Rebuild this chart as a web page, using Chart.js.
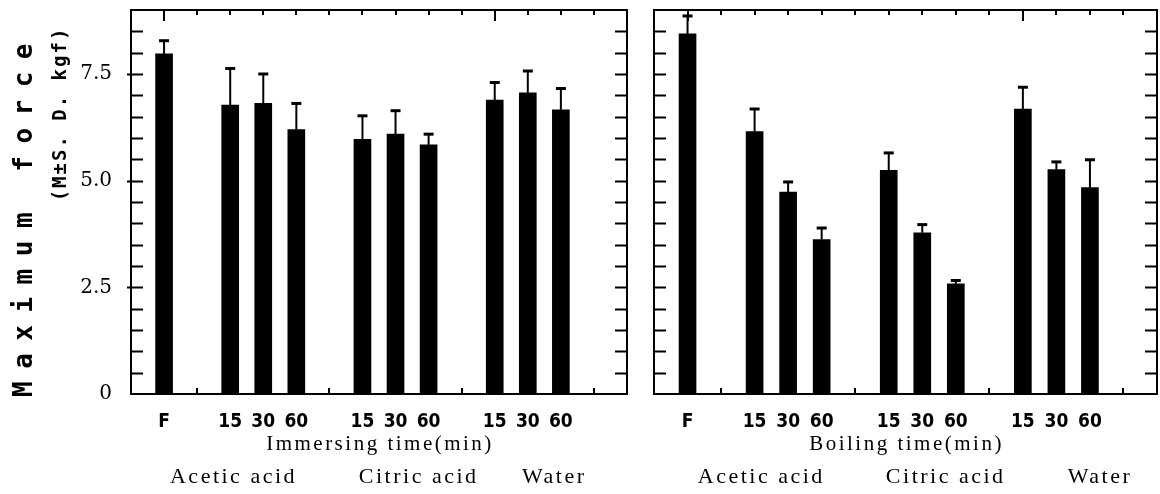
<!DOCTYPE html>
<html>
<head>
<meta charset="utf-8">
<script src="https://cdn.jsdelivr.net/npm/chart.js@4.4.0/dist/chart.umd.min.js"></script>
<style>
    body { margin: 0; background: #fff; }
    #wrap { position: relative; width: 1160px; height: 494px; overflow: hidden; }
    canvas { position: absolute; top: 0; }
</style>
</head>
<body>
<div id="wrap">
    <canvas id="immersing" width="640" height="494" style="left:0"></canvas>
    <canvas id="boiling" width="520" height="494" style="left:640px"></canvas>
</div>
<script>
// Slots along the x axis - blank slots keep the gaps between the groups
const xLabels = ['', 'F', '', '15', '30', '60', '', '15', '30', '60', '', '15', '30', '60', '', ''];
const groupNames = ['Acetic acid', 'Citric acid', 'Water'];
const yTickLabels = ['0', '2.5', '5.0', '7.5'];

// Maximum force (kgf), mean and S.D. per slot
const immersingMean = [null, 7.97, null, 6.77, 6.81, 6.20, null, 5.97, 6.09, 5.84, null, 6.89, 7.06, 6.66, null, null];
const immersingSD   = [null, 0.31, null, 0.86, 0.69, 0.61, null, 0.55, 0.55, 0.25, null, 0.41, 0.51, 0.50, null, null];
const boilingMean   = [null, 8.44, null, 6.15, 4.73, 3.62, null, 5.24, 3.78, 2.58, null, 6.68, 5.26, 4.84, null, null];
const boilingSD     = [null, 0.42, null, 0.53, 0.24, 0.27, null, 0.41, 0.19, 0.08, null, 0.51, 0.18, 0.65, null, null];

// Box frame with inward ticks on all sides
const frameTicks = {
    id: 'frameTicks',
    afterDraw(chart, args, o) {
        const { ctx, chartArea: a, scales: { x, y } } = chart;
        ctx.save();
        ctx.strokeStyle = '#000';
        ctx.lineWidth = 2;
        ctx.strokeRect(a.left, a.top, a.right - a.left, a.bottom - a.top);
        ctx.beginPath();
        y.ticks.forEach(t => {
            if (t.value <= 0 || t.value >= 9) return;
            const py = Math.round(y.getPixelForValue(t.value)) + 0.5;
            const major = Math.abs(t.value / 2.5 - Math.round(t.value / 2.5)) < 1e-6;
            ctx.moveTo(a.left - (major ? o.majorOut : 0), py);
            ctx.lineTo(a.left + 12, py);
            ctx.moveTo(a.right, py);
            ctx.lineTo(a.right - 12, py);
        });
        // top ticks on every slot
        for (let i = 1; i < xLabels.length - 1; i++) {
            const px = Math.round(x.getPixelForValue(i));
            const len = (i === 1 || i === 11) ? 11 : 5;
            ctx.moveTo(px, a.top);
            ctx.lineTo(px, a.top + len);
        }
        // bottom ticks between groups
        [2, 6, 10, 14].forEach(i => {
            const px = Math.round(x.getPixelForValue(i));
            ctx.moveTo(px, a.bottom);
            ctx.lineTo(px, a.bottom - 6);
        });
        ctx.stroke();
        ctx.restore();
    }
};

// Upper S.D. whiskers
const errorBars = {
    id: 'errorBars',
    afterDatasetsDraw(chart) {
        const { ctx, scales: { y } } = chart;
        chart.data.datasets.forEach((ds, di) => {
            chart.getDatasetMeta(di).data.forEach((bar, i) => {
                if (ds.data[i] == null) return;
                const top = y.getPixelForValue(ds.data[i] + ds.sd[i]);
                ctx.save();
                ctx.strokeStyle = '#000';
                ctx.lineWidth = 2;
                ctx.beginPath();
                ctx.moveTo(bar.x, bar.y);
                ctx.lineTo(bar.x, top);
                ctx.stroke();
                ctx.lineWidth = 3;
                ctx.beginPath();
                ctx.moveTo(bar.x - 5, top);
                ctx.lineTo(bar.x + 5, top);
                ctx.stroke();
                ctx.restore();
            });
        });
    }
};

// Axis titles and group names
const panelText = {
    id: 'panelText',
    afterDraw(chart, args, o) {
        const { ctx, chartArea: a, scales: { x } } = chart;
        ctx.save();
        ctx.fillStyle = '#000';
        ctx.textAlign = 'center';
        ctx.textBaseline = 'middle';
        ctx.font = '21px "Liberation Serif", "Times New Roman", serif';
        ctx.letterSpacing = '2.5px';
        ctx.fillText(o.xTitle, (a.left + a.right) / 2 + 1, 444);
        ctx.font = '22px "Liberation Serif", "Times New Roman", serif';
        groupNames.forEach((g, i) => ctx.fillText(g, x.getPixelForValue(o.groupAt[i]), 477));
        if (o.yTitle) {
            ctx.save();
            ctx.translate(25, 214);
            ctx.rotate(-Math.PI / 2);
            ctx.font = 'bold 26px "DejaVu Sans Mono", monospace';
            ctx.letterSpacing = '12.5px';
            ctx.fillText(o.yTitle[0], 0, 0);
            ctx.restore();
            ctx.save();
            ctx.translate(61, 114);
            ctx.rotate(-Math.PI / 2);
            ctx.font = 'bold 19px "DejaVu Sans Mono", monospace';
            ctx.letterSpacing = '2px';
            ctx.fillText(o.yTitle[1], 0, 0);
            ctx.restore();
        }
        ctx.restore();
    }
};

function makePanel(id, o) {
    return new Chart(document.getElementById(id), {
        type: 'bar',
        data: {
            labels: xLabels,
            datasets: [{
                data: o.mean,
                sd: o.sd,
                backgroundColor: '#000',
                borderWidth: 0,
                barThickness: 17
            }]
        },
        options: {
            responsive: false,
            animation: false,
            devicePixelRatio: 1,
            layout: { autoPadding: false, padding: { top: 10, right: o.padRight, bottom: 0, left: 0 } },
            plugins: {
                legend: { display: false },
                tooltip: { enabled: false },
                frameTicks: { majorOut: o.yTitle ? 4 : 0 },
                panelText: { xTitle: o.xTitle, yTitle: o.yTitle, groupAt: o.groupAt }
            },
            scales: {
                x: {
                    type: 'category',
                    offset: false,
                    grid: { display: false },
                    border: { display: false },
                    ticks: {
                        autoSkip: false,
                        maxRotation: 0,
                        padding: 9,
                        color: '#000',
                        font: { family: '"Liberation Sans Narrow", "DejaVu Sans Condensed", "Liberation Sans", sans-serif', size: 19, weight: 'bold' }
                    },
                    afterFit: s => { s.height = 100; s.paddingLeft = 0; s.paddingRight = 0; }
                },
                y: {
                    min: 0,
                    max: 9,
                    grid: { display: false },
                    border: { display: false },
                    ticks: {
                        stepSize: 0.5,
                        autoSkip: false,
                        padding: 11,
                        color: '#000',
                        font: { family: '"DejaVu Serif", "Liberation Serif", serif', size: 20 },
                        callback: v => {
                            if (!o.yTitle) return '';
                            const k = v / 2.5;
                            return Math.abs(k - Math.round(k)) < 1e-6 ? yTickLabels[Math.round(k)] || '' : '';
                        }
                    },
                    afterFit: s => { s.width = o.axisWidth; s.paddingTop = 0; s.paddingBottom = 0; }
                }
            }
        },
        plugins: [errorBars, frameTicks, panelText]
    });
}

makePanel('immersing', {
    mean: immersingMean,
    sd: immersingSD,
    xTitle: 'Immersing time(min)',
    yTitle: ['Maximum force', '(M±S. D. kgf)'],
    groupAt: [3.1, 8.7, 12.8],
    axisWidth: 131,
    padRight: 13
});

makePanel('boiling', {
    mean: boilingMean,
    sd: boilingSD,
    xTitle: 'Boiling time(min)',
    yTitle: null,
    groupAt: [3.2, 8.7, 13.3],
    axisWidth: 14,
    padRight: 3
});
</script>
</body>
</html>
